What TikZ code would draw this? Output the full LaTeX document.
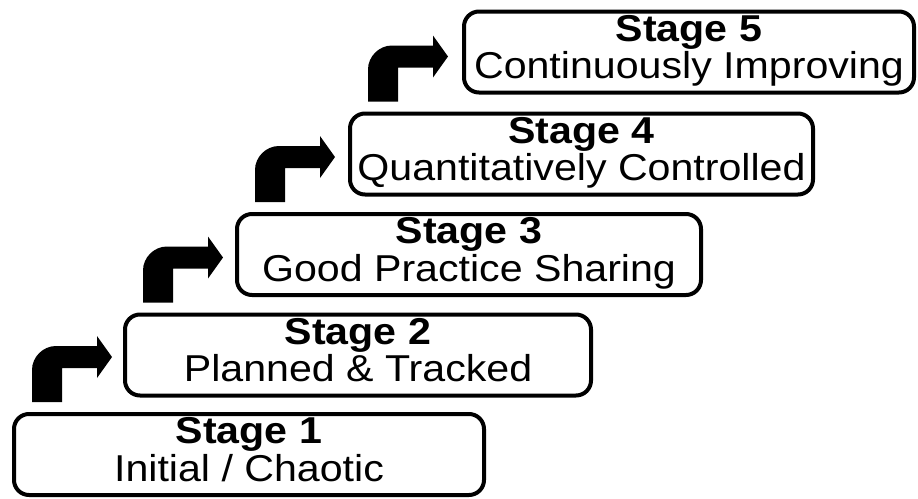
\documentclass[tikz,border=0pt]{standalone}
\usepackage{graphicx}
\usepackage{fontspec}
\setmainfont{Liberation Sans}
\usetikzlibrary{calc}

\newcommand{\stagetext}[2]{\scalebox{1.1}[1]{\begin{tabular}{@{}c@{}}\textbf{Stage #1}\\#2\end{tabular}}}

\tikzset{
  stagebox/.style={draw, line width=2pt, rounded corners=7.5pt, align=center,
    minimum height=40.5pt, inner sep=0pt,
    font=\fontsize{18.7}{17.5}\selectfont},
}

\begin{document}
\begin{tikzpicture}[x=0.5pt,y=-0.5pt]
\useasboundingbox (0,0) rectangle (918,499);

% Stages
\node[stagebox, minimum width=235pt] (s1) at (249,454.5) {\stagetext{1}{Initial / Chaotic}};
\node[stagebox, minimum width=233pt] (s2) at (358,355) {\stagetext{2}{Planned \& Tracked}};
\node[stagebox, minimum width=232pt] (s3) at (469,254.5) {\stagetext{3}{Good Practice Sharing}};
\node[stagebox, minimum width=231.5pt] (s4) at (581.5,154) {\stagetext{4}{Quantitatively Controlled}};
\node[stagebox, minimum width=225pt] (s5) at (689,52) {\stagetext{5}{Continuously Improving}};

% Step arrows
\foreach \a in {s1,s2,s3,s4}
  \fill[shift={($(\a.north west)+(20,-10)$)}] (0,0) -- (0,-32)
    .. controls (0,-45) and (11,-56) .. (24,-56) -- (65,-56) -- (65,-66)
    -- (80,-45) -- (65,-24) -- (65,-34) -- (30,-34) -- (30,0) -- cycle;
\end{tikzpicture}
\end{document}
